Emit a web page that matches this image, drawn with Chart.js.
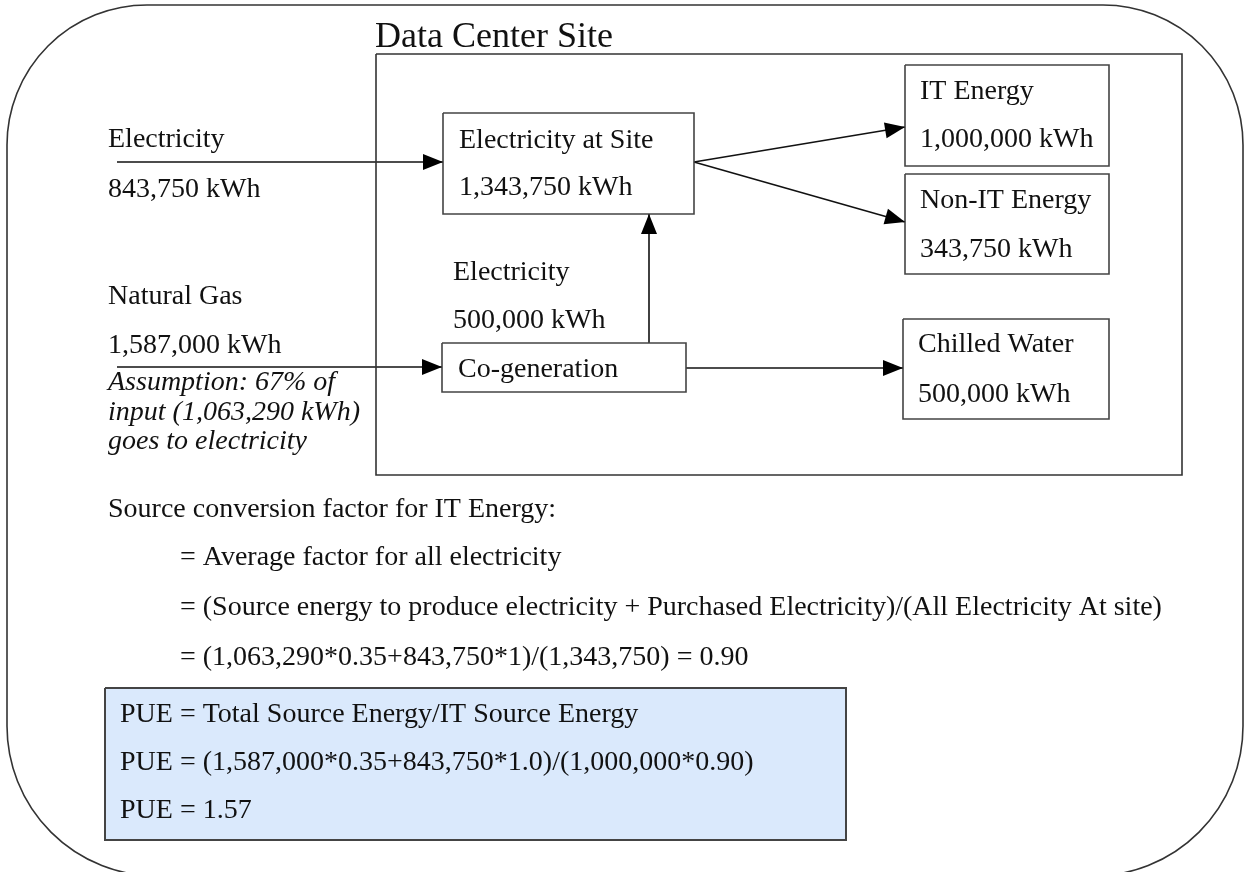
<!DOCTYPE html>
<html>
<head>
<meta charset="utf-8">
<title>Data Center Site PUE</title>
<script src="https://cdn.jsdelivr.net/npm/chart.js@4.4.1/dist/chart.umd.min.js"></script>
<style>
  html, body { margin: 0; padding: 0; background: #fff; }
  #diagram { display: block; }
</style>
</head>
<body>
<canvas id="diagram" width="1247" height="872"></canvas>
<script>
// 数据
const siteTitle = 'Data Center Site';
const inputNames = ['Electricity', 'Natural Gas'];
const inputKWh = [843750, 1587000];
const siteNodes = ['Electricity at Site', 'IT Energy', 'Non-IT Energy', 'Chilled Water', 'Co-generation'];
const siteKWh = [1343750, 1000000, 343750, 500000, null];
const cogenElecKWh = 500000;
const gasElecShare = 67;
const gasElecKWh = 1063290;
const gasSourceFactor = 0.35;
const itSourceFactor = 0.90;
const pueValue = 1.57;

// 布局（画布像素坐标）
const W = 1247, H = 872;
const outerFrame = { x0: 7, y0: 5, x1: 1243, y1: 876, rTop: 140, rBottom: 150 };
const siteFrame = { x0: 376, y0: 54, x1: 1182, y1: 475 };
const nodeBoxes = [
  { x0: 443, y0: 113, x1: 694, y1: 214, tx: 459, ty: [148, 195] },
  { x0: 905, y0: 65, x1: 1109, y1: 166, tx: 920, ty: [99, 147] },
  { x0: 905, y0: 174, x1: 1109, y1: 274, tx: 920, ty: [208, 257] },
  { x0: 903, y0: 319, x1: 1109, y1: 419, tx: 918, ty: [352, 402] },
  { x0: 442, y0: 343, x1: 686, y1: 392, tx: 458, ty: [377] }
];
const pueBox = { x0: 105, y0: 688, x1: 846, y1: 840 };
// 箭头：起点 -> 终点
const arrowPaths = [
  [[117, 162], [443, 162]],
  [[117, 367], [442, 367]],
  [[649, 343], [649, 214]],
  [[694, 162], [905, 127]],
  [[694, 162], [905, 222]],
  [[686, 368], [903, 368]]
];

const FONT = '"Liberation Serif", "Times New Roman", serif';

function fmt(v) {
  return String(v).replace(/\B(?=(\d{3})+(?!\d))/g, ',');
}

function boxData(b) {
  return [
    { x: b.x0, y: b.y0 }, { x: b.x1, y: b.y0 },
    { x: b.x1, y: b.y1 }, { x: b.x0, y: b.y1 }, { x: b.x0, y: b.y0 }
  ];
}

// 文本
const textItems = [
  { text: siteTitle, x: 375, y: 47, size: 36 },
  { text: inputNames[0], x: 108, y: 147 },
  { text: fmt(inputKWh[0]) + ' kWh', x: 108, y: 197 },
  { text: inputNames[1], x: 108, y: 304 },
  { text: fmt(inputKWh[1]) + ' kWh', x: 108, y: 353 },
  { text: 'Assumption: ' + gasElecShare + '% of', x: 108, y: 390, italic: true },
  { text: 'input (' + fmt(gasElecKWh) + ' kWh)', x: 108, y: 420, italic: true },
  { text: 'goes to electricity', x: 108, y: 449, italic: true },
  { text: 'Electricity', x: 453, y: 280 },
  { text: fmt(cogenElecKWh) + ' kWh', x: 453, y: 328 },
  { text: 'Source conversion factor for IT Energy:', x: 108, y: 517 },
  { text: '= Average factor for all electricity', x: 180, y: 565 },
  { text: '= (Source energy to produce electricity + Purchased Electricity)/(All Electricity At site)', x: 180, y: 615 },
  { text: '= (' + fmt(gasElecKWh) + '*' + gasSourceFactor.toFixed(2) + '+' + fmt(inputKWh[0]) + '*1)/(' +
      fmt(siteKWh[0]) + ') = ' + itSourceFactor.toFixed(2), x: 180, y: 665 },
  { text: 'PUE = Total Source Energy/IT Source Energy', x: 120, y: 722 },
  { text: 'PUE = (' + fmt(inputKWh[1]) + '*' + gasSourceFactor.toFixed(2) + '+' + fmt(inputKWh[0]) + '*1.0)/(' +
      fmt(siteKWh[1]) + '*' + itSourceFactor.toFixed(2) + ')', x: 120, y: 770 },
  { text: 'PUE = ' + pueValue.toFixed(2), x: 120, y: 818 }
];
nodeBoxes.forEach((b, i) => {
  textItems.push({ text: siteNodes[i], x: b.tx, y: b.ty[0] });
  if (siteKWh[i] !== null) {
    textItems.push({ text: fmt(siteKWh[i]) + ' kWh', x: b.tx, y: b.ty[1] });
  }
});

// 外框（圆角）
const framePlugin = {
  id: 'frame',
  beforeDatasetsDraw(chart) {
    const { ctx, scales: { x, y } } = chart;
    const l = x.getPixelForValue(outerFrame.x0), r = x.getPixelForValue(outerFrame.x1);
    const t = y.getPixelForValue(outerFrame.y0), b = y.getPixelForValue(outerFrame.y1);
    const rt = outerFrame.rTop, rb = outerFrame.rBottom;
    ctx.save();
    ctx.beginPath();
    ctx.moveTo(l + rt, t);
    ctx.lineTo(r - rt, t);
    ctx.arcTo(r, t, r, t + rt, rt);
    ctx.lineTo(r, b - rb);
    ctx.arcTo(r, b, r - rb, b, rb);
    ctx.lineTo(l + rb, b);
    ctx.arcTo(l, b, l, b - rb, rb);
    ctx.lineTo(l, t + rt);
    ctx.arcTo(l, t, l + rt, t, rt);
    ctx.closePath();
    ctx.strokeStyle = '#333';
    ctx.lineWidth = 1.6;
    ctx.stroke();
    ctx.restore();
  }
};

// 箭头头部 + 文本
const labelPlugin = {
  id: 'labels',
  afterDatasetsDraw(chart) {
    const { ctx, scales: { x, y } } = chart;
    ctx.save();
    chart.data.datasets.forEach((ds, i) => {
      if (!ds.isArrow) return;
      const pts = chart.getDatasetMeta(i).data;
      const p1 = pts[pts.length - 2], p2 = pts[pts.length - 1];
      const a = Math.atan2(p2.y - p1.y, p2.x - p1.x);
      const len = 20, half = 8;
      ctx.beginPath();
      ctx.moveTo(p2.x, p2.y);
      ctx.lineTo(p2.x - len * Math.cos(a) + half * Math.sin(a), p2.y - len * Math.sin(a) - half * Math.cos(a));
      ctx.lineTo(p2.x - len * Math.cos(a) - half * Math.sin(a), p2.y - len * Math.sin(a) + half * Math.cos(a));
      ctx.closePath();
      ctx.fillStyle = '#000';
      ctx.fill();
    });
    ctx.fillStyle = '#111';
    ctx.textBaseline = 'alphabetic';
    ctx.textAlign = 'left';
    textItems.forEach(item => {
      ctx.font = (item.italic ? 'italic ' : '') + (item.size || 28) + 'px ' + FONT;
      ctx.fillText(item.text, x.getPixelForValue(item.x), y.getPixelForValue(item.y));
    });
    ctx.restore();
  }
};

const lineCommon = {
  showLine: true,
  pointRadius: 0,
  pointHoverRadius: 0,
  tension: 0,
  clip: false,
  fill: false,
  borderJoinStyle: 'miter',
  borderCapStyle: 'butt'
};

const datasets = [
  Object.assign({ label: 'pue', data: boxData(pueBox), borderColor: '#444', borderWidth: 2,
    backgroundColor: '#dae9fc', fill: 'shape' }, lineCommon, { fill: 'shape' }),
  Object.assign({ label: 'site', data: boxData(siteFrame), borderColor: '#333', borderWidth: 1.6 }, lineCommon)
];
nodeBoxes.forEach((b, i) => {
  datasets.push(Object.assign({ label: siteNodes[i], data: boxData(b), borderColor: '#444', borderWidth: 1.6 }, lineCommon));
});
arrowPaths.forEach((a, i) => {
  datasets.push(Object.assign({
    label: 'arrow' + i,
    isArrow: true,
    data: a.map(p => ({ x: p[0], y: p[1] })),
    borderColor: '#111',
    borderWidth: 1.6
  }, lineCommon));
});

document.addEventListener('DOMContentLoaded', () => {
  const ctx = document.getElementById('diagram').getContext('2d');
  new Chart(ctx, {
    type: 'line',
    data: { datasets: datasets },
    options: {
      responsive: false,
      animation: false,
      devicePixelRatio: 1,
      layout: { padding: 0 },
      events: [],
      scales: {
        x: { type: 'linear', min: 0, max: W, display: false },
        y: { type: 'linear', min: 0, max: H, reverse: true, display: false }
      },
      plugins: {
        legend: { display: false },
        tooltip: { enabled: false }
      }
    },
    plugins: [framePlugin, labelPlugin]
  });
});
</script>
</body>
</html>
